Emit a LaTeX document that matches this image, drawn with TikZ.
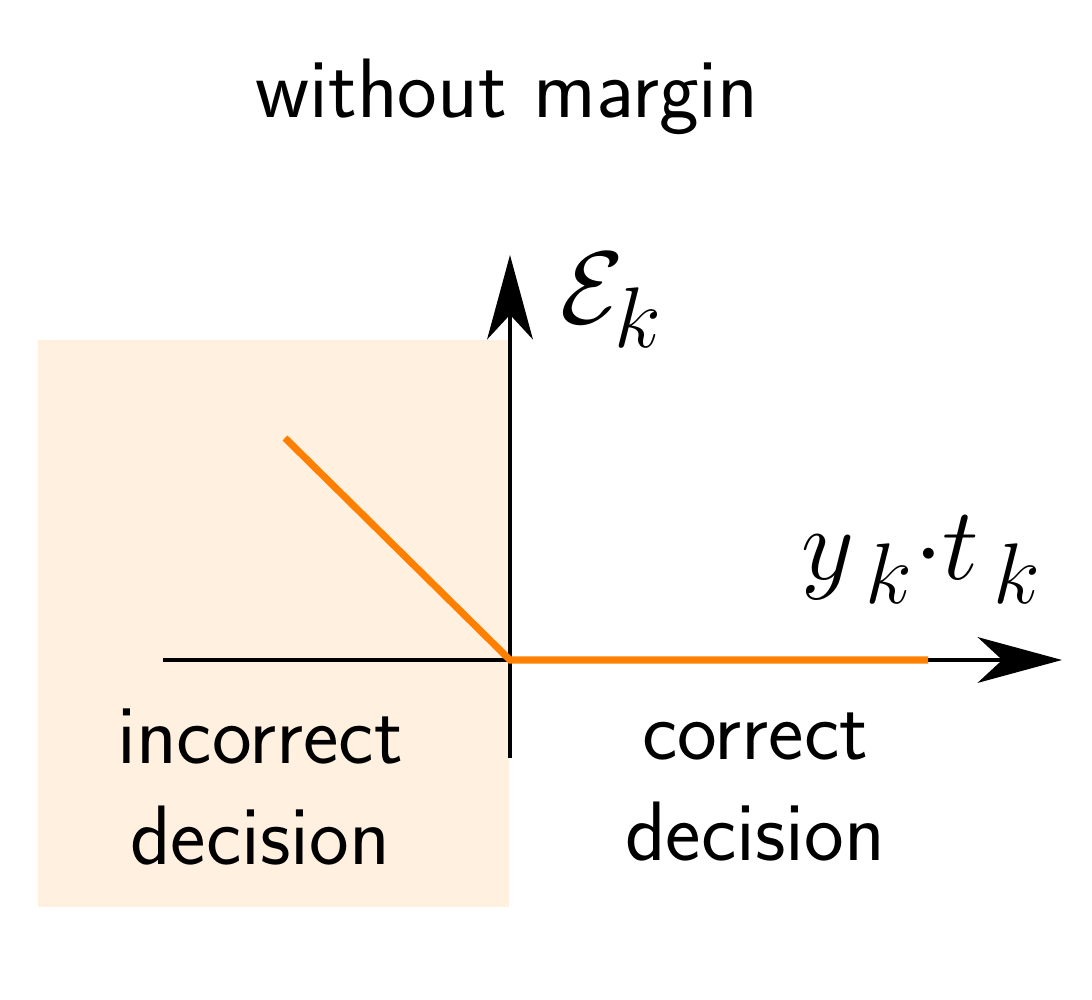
\documentclass[tikz,border=0pt]{standalone}
\usetikzlibrary{arrows.meta}
\renewcommand{\familydefault}{\sfdefault}
\newcommand{\bigmath}[1]{\scalebox{1.18}{$#1$}}
\tikzset{
    axis/.style={line width=1.1pt,-{Stealth[length=24pt,width=13pt,inset=7pt]}},
    loss/.style={line width=2pt,orange,line join=miter},
    lbl/.style={font=\fontsize{24}{28.5}\selectfont,align=center},
    mlbl/.style={font=\fontsize{24.88}{30}\selectfont},
}
\begin{document}
\begin{tikzpicture}
        \useasboundingbox (-5.1,-3.4) rectangle (5.82,6.6);
        \fill[orange!12] (-4.72,-2.47) rectangle (-0.01,3.2);
        \node[lbl] (title) at (-0.03,5.63) {without margin};
        \coordinate (ybot) at (0,-0.98);
        \coordinate (ytop) at (0,4.05);
        \coordinate (xl) at (-3.47,0);
        \coordinate (xr) at (5.52,0);
        \coordinate (o) at (0,0);
        \coordinate (a) at (-2.25,2.22);
        \coordinate (b) at (4.18,0);
        \draw[axis] (ybot)--(ytop);
        \draw[axis] (xl)--(xr);
        \node[mlbl] (E) at (1.02,3.6) {\bigmath{\mathcal{E}_k}};
        \node[mlbl] (yt) at (4.12,1.0) {\bigmath{y_{\,k}{\cdot}t_{\,k}}};
        \draw[loss] (a)--(o)--(b);
        \node[lbl] (inc) at (-2.5,-1.27) {incorrect\\decision};
        \node[lbl] (cor) at (2.45,-1.27) {correct\\decision};
    \end{tikzpicture}
\end{document}
